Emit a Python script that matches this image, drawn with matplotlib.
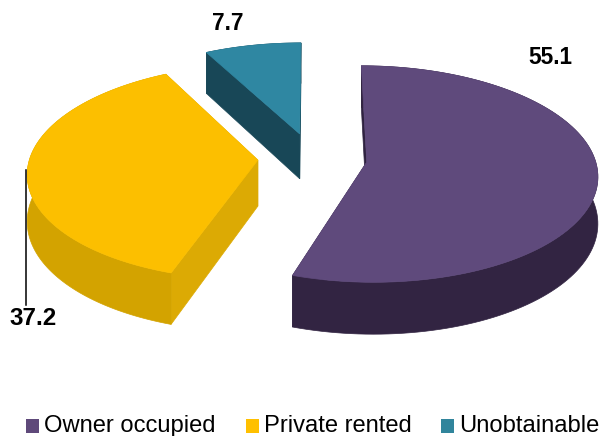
"""3D exploded pie chart of housing tenure"""

import numpy as np
import matplotlib
matplotlib.use('Agg')
import matplotlib.pyplot as plt
import matplotlib.patches as ptc

plt.rcParams['font.family'] = ['Liberation Sans', 'DejaVu Sans']

categories = ['Owner occupied', 'Private rented', 'Unobtainable']
values = [55.1, 37.2, 7.7]
value_labels = ['55.1', '37.2', '7.7']

top_colors = ['#5f4a7c', '#fcbf00', '#2f87a2']
wall_colors = ['#322442', '#d3a300', '#184757']
cut_colors = ['#2f2240', '#dcaa04', '#184757']
legend_colors = ['#5f497a', '#ffc000', '#31859c']

# camera of the fake perspective, in pixels
X0, Y0 = 312.5, 158
RX, RY = 228, 106
PERSP = 0.11
DEPTH = 46
EXPLODE = 0.24


def project(x, y, z=0.0):
    """Disc coordinates (radius 1) to image pixels"""
    k = 1 + PERSP * y
    return X0 + RX * x / k, Y0 - RY * y / k + DEPTH * z / k


def wedge_arrays(start, sweep):
    """Outline of a wedge going clockwise, moved out along its middle angle"""
    mid = np.radians(start - sweep / 2)
    ox, oy = EXPLODE * np.cos(mid), EXPLODE * np.sin(mid)
    ang = np.radians(np.linspace(start, start - sweep, 120))
    return ox, oy, ox + np.cos(ang), oy + np.sin(ang)


def extrude(axis, xs, ys, color, zorder):
    """Side face under a line of disc points"""
    top = np.column_stack(project(xs, ys))
    bottom = np.column_stack(project(xs, ys, 1.0))
    axis.add_patch(ptc.Polygon(
        np.vstack([top, bottom[::-1]]), closed=True,
        fc=color, ec=color, lw=0.5, zorder=zorder
    ))


def draw_wedge(axis, start, sweep, i, zorder):
    ox, oy, ax_, ay_ = wedge_arrays(start, sweep)
    extrude(axis, np.array([ox, ax_[0]]), np.array([oy, ay_[0]]),
            cut_colors[i], zorder)
    extrude(axis, np.array([ox, ax_[-1]]), np.array([oy, ay_[-1]]),
            cut_colors[i], zorder)
    extrude(axis, ax_, ay_, wall_colors[i], zorder + 0.1)
    xs = np.concatenate([[ox], ax_])
    ys = np.concatenate([[oy], ay_])
    axis.add_patch(ptc.Polygon(
        np.column_stack(project(xs, ys)), closed=True,
        fc=top_colors[i], ec=top_colors[i], lw=0.5, zorder=zorder + 0.2
    ))


fig = plt.figure(figsize=(6.01, 4.36), dpi=100)
ax = fig.add_axes([0, 0, 1, 1])
ax.set_xlim(0, 601)
ax.set_ylim(436, 0)
ax.axis('off')

angle = 90.0
order = [2, 1, 0]
starts = []
for v in values:
    starts.append(angle)
    angle -= v / sum(values) * 360
for i in order:
    draw_wedge(ax, starts[i], values[i] / sum(values) * 360, i, 2 + order.index(i))

# data labels
label_pos = [(550, 58), (33.5, 318), (228, 24)]
label_size = [16.3, 17.5, 16.3]
for txt, (x, y), size in zip(value_labels, label_pos, label_size):
    ax.text(x, y, txt, ha='center', va='center', fontsize=size,
            fontweight='bold', color='black', zorder=10)
ax.plot([26, 26], [170, 305], color='black', lw=1.1, zorder=10)

# legend
swatch_x = [26, 246, 441]
for name, col, x in zip(categories, legend_colors, swatch_x):
    ax.add_patch(ptc.Rectangle((x, 419), 13, 14, fc=col, ec='none', zorder=10))
    ax.text(x + 18, 426, name, ha='left', va='center', fontsize=17.1,
            color='black', zorder=10)

fig.savefig('out.png', dpi=100)
